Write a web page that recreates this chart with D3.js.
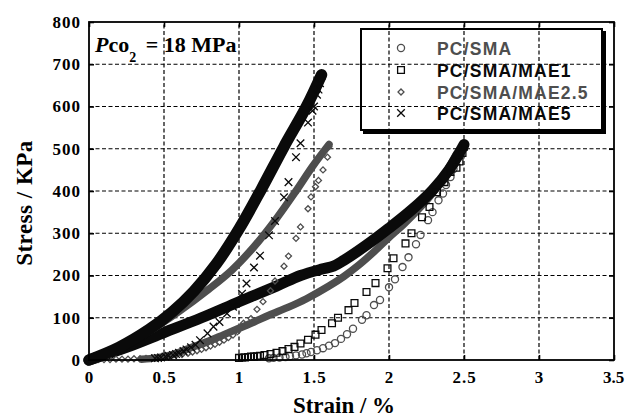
<!DOCTYPE html>
<html>
<head>
<meta charset="utf-8">
<script src="https://cdn.jsdelivr.net/npm/d3@7"></script>
<style>
  body { margin: 0; background: #fff; }
  svg { display: block; }
</style>
</head>
<body>
<svg id="chart" width="625" height="417"></svg>
<script>
// axis ticks
const xTicks = [0, 0.5, 1, 1.5, 2, 2.5, 3, 3.5];
const yTicks = [0, 100, 200, 300, 400, 500, 600, 700, 800];
const seriesNames = ["PC/SMA", "PC/SMA/MAE1", "PC/SMA/MAE2.5", "PC/SMA/MAE5"];

// PC/SMA : loading (dense) + unloading (circles)
const smaLoad = [[0.35,2],[0.45,5],[0.55,12],[0.67,28],[0.8,45],[0.9,60],[1.0,75],[1.1,90],[1.2,106],
  [1.33,125],[1.45,145],[1.6,175],[1.7,198],[1.8,225],[1.9,256],[2.0,290],[2.1,322],[2.2,358],
  [2.29,395],[2.36,432],[2.45,488]];
const smaUnload = [[2.47,490],[2.46,478],[2.44,465],[2.43,452],[2.41,433],[2.38,414],[2.36,394],[2.33,378],
  [2.29,350],[2.26,331],[2.21,296],[2.18,274],[2.13,243],[2.09,220],[2.04,191],[2.0,172],[1.94,142],
  [1.9,130],[1.85,106],[1.82,95],[1.76,74],[1.72,61],[1.68,50],[1.64,40],[1.6,34],[1.56,28],[1.52,23],
  [1.48,19],[1.45,16],[1.42,13],[1.38,11],[1.34,9],[1.31,7],[1.27,6],[1.23,5],[1.2,4]];

// PC/SMA/MAE1 : loading + unloading (squares)
const mae1Load = [[0,0],[0.25,30],[0.5,65],[0.75,100],[1.0,138],[1.25,175],[1.41,200],[1.55,215],
  [1.63,222],[1.7,236],[1.85,272],[2.0,312],[2.15,355],[2.29,402],[2.4,450],[2.5,510]];
const mae1Unload = [[2.5,505],[2.49,490],[2.47,470],[2.45,455],[2.41,445],[2.37,421],[2.32,397],[2.27,362],
  [2.22,338],[2.15,300],[2.11,276],[2.03,241],[1.99,217],[1.91,182],[1.85,161],[1.77,135],[1.73,118],
  [1.66,100],[1.62,87],[1.55,71],[1.51,60],[1.46,48],[1.41,39],[1.37,31],[1.33,26],[1.29,21],[1.25,17],
  [1.21,14],[1.17,12],[1.14,10],[1.12,9],[1.1,8],[1.08,8],[1.06,7],[1.04,6],[1.02,6],[1.0,5]];

// PC/SMA/MAE2.5 : loading + unloading (diamonds)
const mae25Load = [[0,0],[0.2,32],[0.4,68],[0.6,115],[0.8,168],[0.95,212],[1.1,268],[1.25,335],
  [1.38,400],[1.49,458],[1.6,510]];
const mae25Unload = [[1.6,505],[1.59,480],[1.56,450],[1.53,425],[1.51,410],[1.48,386],[1.46,358],[1.41,315],
  [1.38,288],[1.33,246],[1.3,222],[1.24,187],[1.21,164],[1.16,138],[1.12,120],[1.08,98],[1.03,87],
  [0.99,67],[0.96,59],[0.93,53],[0.9,47],[0.87,42],[0.84,37],[0.81,33],[0.78,29],[0.75,25],[0.72,22],
  [0.69,19],[0.66,16],[0.62,13],[0.58,11],[0.54,9],[0.5,7],[0.46,6],[0.42,5],[0.38,4],[0.34,3],
  [0.3,3],[0.26,2],[0.22,2],[0.18,2],[0.14,1],[0.1,1],[0.06,1],[0.03,1]];

// PC/SMA/MAE5 : loading + unloading (crosses)
const mae5Load = [[0,0],[0.2,30],[0.4,72],[0.55,112],[0.7,163],[0.85,228],[1.0,310],[1.15,405],
  [1.3,505],[1.45,600],[1.55,675]];
const mae5Unload = [[1.55,672],[1.54,655],[1.53,640],[1.52,628],[1.5,600],[1.49,590],[1.46,562],[1.41,513],
  [1.38,480],[1.33,421],[1.3,385],[1.24,329],[1.2,295],[1.14,247],[1.1,219],[1.05,181],[1.02,157],
  [0.96,126],[0.92,110],[0.87,90],[0.83,79],[0.79,63],[0.74,47],[0.71,36],[0.68,30],[0.65,25],
  [0.63,21],[0.6,17],[0.58,14],[0.56,12],[0.53,10],[0.51,8],[0.48,6],[0.46,5],[0.44,4]];

const svg = d3.select("#chart");
const x = d3.scaleLinear().domain([0, 3.5]).range([89, 614]);
const y = d3.scaleLinear().domain([0, 800]).range([360, 22]);

const BLACK = "#0a0a0a", GRAY = "#4e4e4e";
const serif = "'Liberation Serif', 'Times New Roman', serif";
const sans = "'Liberation Sans', Arial, sans-serif";

// grid
svg.append("g").selectAll("line").data(xTicks.slice(1, -1)).enter().append("line")
  .attr("x1", d => x(d)).attr("x2", d => x(d)).attr("y1", y(0)).attr("y2", y(800))
  .attr("stroke", "#000").attr("stroke-width", 1.2).attr("stroke-dasharray", "4,2.5");
svg.append("g").selectAll("line").data(yTicks.slice(1, -1)).enter().append("line")
  .attr("y1", d => y(d)).attr("y2", d => y(d)).attr("x1", x(0)).attr("x2", x(3.5))
  .attr("stroke", "#000").attr("stroke-width", 1.2).attr("stroke-dasharray", "4,2.5");

// axes
function styleAxis(g) {
  g.select(".domain").remove();
  g.selectAll(".tick line").attr("stroke", "#000").attr("stroke-width", 1.6);
  g.selectAll("text").attr("fill", "#000").style("font-family", serif)
    .style("font-weight", "bold").style("font-size", "17px").style("letter-spacing", "1px");
}
const xAxis = svg.append("g").attr("transform", "translate(0,360)")
  .call(d3.axisBottom(x).tickValues(xTicks).tickSize(-5).tickPadding(11).tickFormat(d => String(d)))
  .call(styleAxis);
// last label sits on the right edge
xAxis.selectAll("text").filter(d => d === 3.5).style("letter-spacing", "0px").attr("dx", "-1px");
svg.append("g").attr("transform", "translate(89,0)")
  .call(d3.axisLeft(y).tickValues(yTicks).tickSize(-5).tickPadding(8).tickFormat(d => String(d)))
  .call(styleAxis);
svg.append("g").attr("transform", "translate(0,22)")
  .call(d3.axisTop(x).tickValues(xTicks).tickSize(-5).tickFormat(""))
  .call(styleAxis);
svg.append("g").attr("transform", "translate(614,0)")
  .call(d3.axisRight(y).tickValues(yTicks).tickSize(-5).tickFormat(""))
  .call(styleAxis);

// symbols
const symPath = {
  circle: d3.symbol().type(d3.symbolCircle).size(40)(),
  square: d3.symbol().type(d3.symbolSquare).size(46)(),
  diamond: d3.symbol().type(d3.symbolSquare).size(18)(),
  cross: "M-3.8,-3.8L3.8,3.8M-3.8,3.8L3.8,-3.8"
};
const line = d3.line().x(d => x(d[0])).y(d => y(d[1])).curve(d3.curveCatmullRom.alpha(0.5));

const series = [
  { load: smaLoad, unload: smaUnload, sym: "circle", color: GRAY, band: 7.5, rot: 0 },
  { load: mae1Load, unload: mae1Unload, sym: "square", color: BLACK, band: 11, rot: 0 },
  { load: mae25Load, unload: mae25Unload, sym: "diamond", color: GRAY, band: 7.5, rot: 45 },
  { load: mae5Load, unload: mae5Unload, sym: "cross", color: BLACK, band: 11.5, rot: 0 }
];

const plot = svg.append("g");
series.forEach(s => {
  plot.append("path").attr("d", line(s.load)).attr("fill", "none")
    .attr("stroke", s.color).attr("stroke-width", s.band).attr("stroke-linecap", "round");
  plot.append("g").selectAll("path").data(s.unload).enter().append("path")
    .attr("d", symPath[s.sym])
    .attr("transform", d => `translate(${x(d[0])},${y(d[1])}) rotate(${s.rot})`)
    .attr("fill", "none").attr("stroke", s.color).attr("stroke-width", 1.3);
});

// frame
svg.append("rect").attr("x", 89).attr("y", 22).attr("width", 525).attr("height", 338)
  .attr("fill", "none").attr("stroke", "#000").attr("stroke-width", 1.8);

// legend
svg.append("rect").attr("x", 361).attr("y", 29).attr("width", 241).attr("height", 101)
  .attr("fill", "none").attr("stroke", "#000").attr("stroke-width", 2);
svg.append("path").attr("d", "M604.5,31V132.5H363").attr("fill", "none")
  .attr("stroke", "#000").attr("stroke-width", 3);
const legendY = [48, 70, 92, 113];
seriesNames.forEach((name, i) => {
  const s = series[i];
  svg.append("path").attr("d", symPath[s.sym])
    .attr("transform", `translate(401,${legendY[i]}) rotate(${s.rot})`)
    .attr("fill", "none").attr("stroke", s.color).attr("stroke-width", 1.3);
  svg.append("text").attr("x", 437).attr("y", legendY[i] + 6.5).text(name)
    .attr("fill", s.color).style("font-family", sans).style("font-weight", "bold")
    .style("font-size", "17.5px").style("letter-spacing", "1.2px");
});

// condition label
const cond = svg.append("text").attr("x", 95).attr("y", 52).attr("fill", "#000")
  .style("font-family", serif).style("font-weight", "bold").style("font-size", "22px");
cond.append("tspan").text("P").style("font-style", "italic");
cond.append("tspan").text("co");
cond.append("tspan").text("2").attr("dy", 10).style("font-size", "14px");
cond.append("tspan").text(" = 18 MPa").attr("dy", -10).attr("dx", 4);

// axis titles
svg.append("text").attr("transform", "translate(32,203) rotate(-90)").attr("text-anchor", "middle")
  .text("Stress / KPa").attr("fill", "#000").style("font-family", serif)
  .style("font-weight", "bold").style("font-size", "23px").style("letter-spacing", "0.5px");
svg.append("text").attr("x", 344).attr("y", 413).attr("text-anchor", "middle")
  .text("Strain / %").attr("fill", "#000").style("font-family", serif)
  .style("font-weight", "bold").style("font-size", "23px");
</script>
</body>
</html>
